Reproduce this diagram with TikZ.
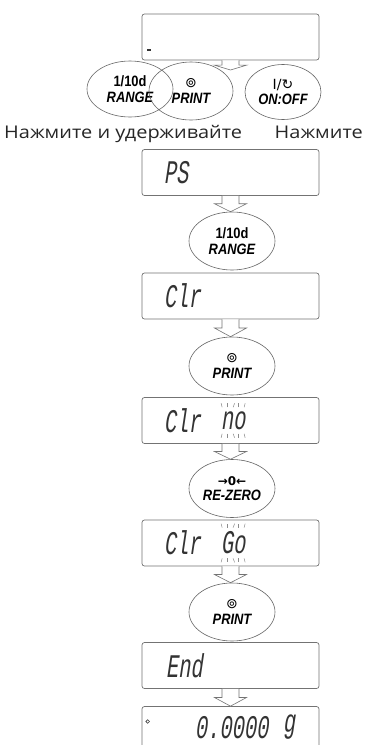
\documentclass[tikz,border=0pt]{standalone}
\usepackage{fontspec}
\setmainfont{Open Sans}
\newfontfamily\lblfont{Open Sans}[FakeStretch=1.14]
\newfontfamily\btnfont{Liberation Sans}[FakeStretch=0.86]
\newfontfamily\symfont{DejaVu Sans}
\newfontfamily\segfont{Liberation Mono}[FakeSlant=0.15,FakeStretch=0.62]
\usetikzlibrary{calc,shapes.geometric}
\tikzset{
  disp/.style={draw=black!55, line width=0.7pt, rounded corners=2.5pt,
    minimum width=177pt, minimum height=46pt, inner sep=0pt},
  btn/.style={ellipse, draw=black!60, line width=0.6pt, minimum width=86pt,
    minimum height=58pt, inner sep=0pt, align=center,
    font=\btnfont\bfseries\fontsize{15}{15.5}\selectfont},
  seg/.style={font=\segfont\fontsize{33}{33}\selectfont, text=black!80, inner sep=0pt},
  lbl/.style={font=\lblfont\fontsize{17.5}{18}\selectfont, text=black!85, inner sep=0pt},
  blinkline/.style={draw=black!45, line width=0.5pt},
  harrowstyle/.style={draw=black!55, fill=white, line width=0.6pt, line join=miter}
}
\newcommand\harrow[2]{%
  \path let \p1=(#1), \p2=(#2), \p3=($(\p1)!0.5!(\p2)$) in
    [harrowstyle] (\x1-8.5pt,\y1) -- (\x1-8.5pt,\y3) -- (\x1-16pt,\y3) --
    (\x1,\y2) -- (\x1+16pt,\y3) -- (\x1+8.5pt,\y3) -- (\x1+8.5pt,\y1);}
\newcommand\blink[1]{%
  \draw[blinkline] ($(#1.north)+(-11,-4)$) -- ++(-1,-4);
  \draw[blinkline] ($(#1.north)+(-5.5,-4)$) -- ++(0,-4);
  \draw[blinkline] ($(#1.north)+(0,-4)$) -- ++(1.5,-4);
  \draw[blinkline] ($(#1.north)+(5.5,-4)$) -- ++(0,-4);
  \draw[blinkline] ($(#1.north)+(11,-4)$) -- ++(1,-4);
  \draw[blinkline] ($(#1.south)+(-11,4)$) -- ++(-1,4);
  \draw[blinkline] ($(#1.south)+(-5.5,4)$) -- ++(0,4);
  \draw[blinkline] ($(#1.south)+(0,4)$) -- ++(1.5,4);
  \draw[blinkline] ($(#1.south)+(5.5,4)$) -- ++(0,4);
  \draw[blinkline] ($(#1.south)+(11,4)$) -- ++(1,4);}
\begin{document}
\begin{tikzpicture}[x=1pt,y=-1pt]
\useasboundingbox[fill=white] (0,0) rectangle (365,745);
% display boxes
\node[disp] (b1) at (230.5,37) {};
\node[disp] (b2) at (230.5,172.5) {};
\node[disp] (b3) at (230.5,296) {};
\node[disp] (b4) at (230.5,420.5) {};
\node[disp] (b5) at (230.5,543) {};
\node[disp] (b6) at (230.5,665.5) {};
\node[disp] (b7) at (230.5,729.5) {};
% box 1 marker
\coordinate (m1) at (147,50);
\draw[line width=1.6pt, black!80] (m1) -- ++(3.5,0);
% arrow from box 1
\coordinate (t1) at (231,70);
\harrow{b1.south}{t1}
% top buttons
\node[btn, minimum width=86pt, minimum height=56pt] (o1) at (130,89) {1/10d\\{\itshape RANGE}};
\node[btn, minimum width=84pt, minimum height=58pt] (o2) at (191,91) {{\symfont\mdseries\fontsize{14}{14}\selectfont ⊚}\\{\itshape PRINT}};
\node[btn, minimum width=76pt, minimum height=55pt] (o3) at (283,92) {{\symfont\mdseries\fontsize{14}{14}\selectfont I/↻}\\{\itshape ON:OFF}};
% labels
\node[lbl, anchor=base west] (l1) at (4,138) {Нажмите и удерживайте};
\node[lbl, anchor=base east] (l2) at (363,138) {Нажмите};
% display texts
\node[seg, anchor=west] (d2) at ($(b2.west)+(22,0)$) {PS};
\node[seg, anchor=west] (d3) at ($(b3.west)+(22,0)$) {Clr};
\node[seg, anchor=west] (d4) at ($(b4.west)+(22,0)$) {Clr};
\node[seg, anchor=west] (d4b) at ($(b4.west)+(79,0)$) {no};
\node[seg, anchor=west] (d5) at ($(b5.west)+(22,0)$) {Clr};
\node[seg, anchor=west] (d5b) at ($(b5.west)+(79,0)$) {Go};
\node[seg, anchor=west] (d6) at ($(b6.west)+(24,0)$) {End};
\node[seg, anchor=west] (d7) at ($(b7.west)+(53,-2)$) {0.0000};
\node[seg, anchor=west] (d7g) at ($(b7.west)+(141,-2)$) {g};
\coordinate (deg) at ($(b7.west)+(6,-8)$);
\draw[black!75, line width=0.6pt] (deg) circle (1.8pt);
\blink{d4b}
\blink{d5b}
% sequence buttons
\node[btn] (o4) at (232,241) {1/10d\\{\itshape RANGE}};
\node[btn] (o5) at (232,366) {{\symfont\mdseries\fontsize{14}{14}\selectfont ⊚}\\{\itshape PRINT}};
\node[btn] (o6) at (232,488.5) {{\symfont\bfseries\fontsize{12}{13}\selectfont →0←}\\{\itshape RE-ZERO}};
\node[btn] (o7) at (232,612) {{\symfont\mdseries\fontsize{14}{14}\selectfont ⊚}\\{\itshape PRINT}};
% arrows
\harrow{b2.south}{o4.north}
\harrow{b3.south}{o5.north}
\harrow{b4.south}{o6.north}
\harrow{b5.south}{o7.north}
\harrow{b6.south}{b7.north}
\end{tikzpicture}
\end{document}
